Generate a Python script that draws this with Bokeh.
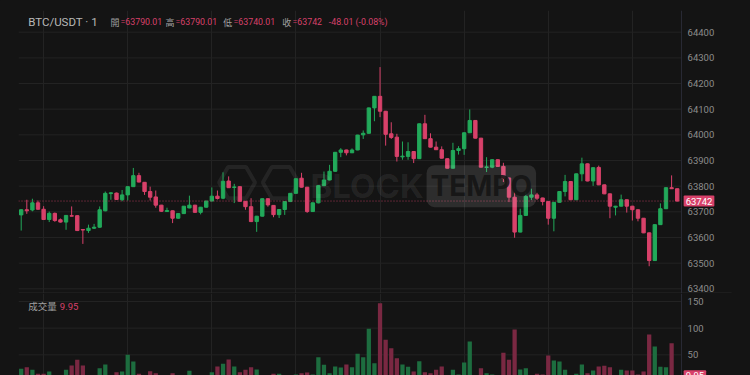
from bokeh.plotting import figure
from bokeh.layouts import column
from bokeh.models import Range1d, FixedTicker, Span, Label, ColumnDataSource
from bokeh.core.properties import value
from bokeh.embed import file_html
from bokeh.resources import INLINE

# ---------------- data ----------------
opens = [63688, 63708, 63707, 63735, 63710, 63670, 63694, 63669, 63660, 63685,
         63685, 63631, 63627, 63636, 63640, 63704, 63771, 63773, 63747, 63766,
         63798, 63841, 63815, 63779, 63758, 63726, 63701, 63704, 63675, 63693,
         63715, 63726, 63698, 63718, 63742, 63761, 63753, 63820, 63795, 63798,
         63741, 63720, 63662, 63683, 63751, 63725, 63689, 63709, 63740, 63772,
         63831, 63796, 63701, 63735, 63802, 63824, 63858, 63932, 63941, 63930,
         63941, 64000, 64006, 64105, 64150, 64092, 64004, 63991, 63914, 63916,
         63935, 63907, 64043, 63985, 63952, 63942, 63907, 63870, 63939, 63946,
         64008, 64056, 63987, 63873, 63874, 63903, 63877, 63832, 63757, 63621,
         63686, 63757, 63766, 63754, 63740, 63675, 63737, 63779, 63818, 63747,
         63848, 63887, 63820, 63873, 63805, 63770, 63718, 63722, 63747, 63722,
         63708, 63675, 63618, 63510, 63650, 63712, 63794, 63790.01]
highs = [63710, 63747, 63751, 63744, 63722, 63701, 63697, 63674, 63686, 63721,
         63686, 63631, 63650, 63653, 63721, 63779, 63776, 63775, 63785, 63799,
         63871, 63852, 63816, 63798, 63783, 63727, 63716, 63705, 63694, 63722,
         63763, 63727, 63719, 63743, 63795, 63783, 63854, 63838, 63809, 63799,
         63742, 63753, 63684, 63752, 63752, 63726, 63710, 63741, 63773, 63830,
         63852, 63797, 63736, 63803, 63857, 63883, 63933, 63948, 63942, 63947,
         64000, 64017, 64106, 64151, 64264, 64093, 64049, 64004, 63974, 63971,
         63936, 64044, 64078, 64006, 63974, 63955, 63908, 63969, 63956, 64009,
         64099, 64057, 63988, 63913, 63905, 63904, 63891, 63833, 63776, 63712,
         63776, 63790, 63774, 63755, 63741, 63738, 63780, 63844, 63819, 63849,
         63911, 63888, 63873, 63880, 63806, 63771, 63723, 63767, 63748, 63723,
         63709, 63676, 63619, 63651, 63733, 63795, 63842, 63790.01]
lows = [63627, 63692, 63702, 63708, 63669, 63660, 63661, 63658, 63630, 63682,
        63625, 63575, 63618, 63633, 63638, 63702, 63747, 63746, 63741, 63744,
        63797, 63815, 63766, 63744, 63716, 63700, 63700, 63656, 63673, 63692,
        63714, 63697, 63690, 63717, 63741, 63748, 63749, 63793, 63734, 63740,
        63708, 63660, 63622, 63682, 63720, 63679, 63676, 63688, 63738, 63770,
        63795, 63696, 63700, 63733, 63800, 63823, 63856, 63913, 63920, 63929,
        63940, 63984, 64005, 64053, 64069, 63958, 63984, 63896, 63903, 63903,
        63890, 63906, 63984, 63951, 63941, 63908, 63869, 63869, 63923, 63922,
        64007, 63986, 63873, 63855, 63870, 63876, 63816, 63738, 63599, 63620,
        63685, 63746, 63746, 63725, 63650, 63624, 63736, 63760, 63746, 63746,
        63819, 63819, 63801, 63804, 63769, 63675, 63686, 63721, 63697, 63666,
        63663, 63617, 63488, 63509, 63649, 63711, 63789, 63740.01]
closes = [63708, 63704, 63735, 63710, 63670, 63694, 63666, 63660, 63686, 63683,
          63627, 63629, 63636, 63640, 63708, 63772, 63774, 63748, 63766, 63798,
          63841, 63816, 63779, 63757, 63726, 63702, 63705, 63675, 63693, 63722,
          63726, 63698, 63718, 63742, 63761, 63752, 63819, 63794, 63797, 63741,
          63720, 63662, 63683, 63751, 63727, 63689, 63709, 63740, 63772, 63829,
          63796, 63701, 63735, 63802, 63824, 63858, 63932, 63941, 63930, 63941,
          63999, 64006, 64105, 64150, 64092, 64002, 63990, 63916, 63917, 63935,
          63907, 64043, 63985, 63952, 63942, 63909, 63870, 63939, 63946, 64008,
          64056, 63987, 63874, 63875, 63903, 63877, 63831, 63757, 63621, 63686,
          63760, 63766, 63753, 63740, 63675, 63737, 63779, 63818, 63747, 63848,
          63887, 63820, 63872, 63805, 63770, 63722, 63722, 63747, 63722, 63708,
          63675, 63618, 63510, 63650, 63712, 63794, 63790, 63742]
volumes = [23.8, 26.9, 21.9, 14.4, 14.4, 18.8, 8, 6, 21.9, 30,
           40.6, 30, 7, 5, 25, 31.9, 8, 17.5, 18.8, 50,
           37.5, 14.4, 9, 19.4, 15.6, 8, 6, 15.6, 7, 9,
           20, 8, 7, 9, 17.5, 28.1, 33.1, 41.2, 28.1, 17.5,
           21.9, 26.9, 22.5, 8, 6, 14.4, 14.4, 9, 7, 13.1,
           15.6, 16.9, 13.1, 45.6, 31.2, 15.6, 28.1, 26.2, 31.9, 26.9,
           51.9, 45.6, 98.8, 34.4, 146.8, 78.1, 62.5, 43.8, 31.9, 27.5,
           18.8, 38.1, 17.5, 15.6, 21.9, 28.1, 8, 21.9, 13.1, 35.6,
           75, 9, 25, 15.6, 13.1, 8, 53.8, 40.6, 97.5, 22.5,
           25, 6, 14.4, 13, 48.8, 39.4, 37.5, 21.9, 9, 14.4,
           31.9, 15.6, 20.6, 28.1, 29.4, 26.9, 7, 21.9, 20.6, 20.6,
           13.1, 18.8, 88.1, 65.6, 27.5, 26.9, 71.9, 9.95]
price_ticks = [63400, 63500, 63600, 63700, 63800, 63900, 64000, 64100, 64200, 64300, 64400]
volume_ticks = [50, 100, 150]
grid_candles = [4, 19, 34, 49, 64, 79, 94, 109]
symbol = "BTC/USDT · 1"
ohlc_names = ["開", "高", "低", "收"]
last_o, last_h, last_l, last_c = 63790.01, 63790.01, 63740.01, 63742
change, change_pct = -48.01, -0.08
vol_title = "成交量"

# ---------------- styles ----------------
BG = "#141414"
GRID = "#232323"
UP = "#22a95a"
DOWN = "#d8416a"
VUP = "#1d6d3f"
VDOWN = "#7a2842"
AX = "#8c8c8c"
AXLINE = "#2a2b36"
FONT = "Roboto"
CJK = "Noto Sans CJK TC"

X0 = -0.48        # left edge of plotting area (candle index units)
XAX = 117.77      # price-scale line position
XLAB = 118.85     # price-scale label position
XSEP = 126.7      # right end of the pane separator
XEND = 130.07     # right edge of the window

n = len(closes)
idx = list(range(n))
is_up = [c >= o for o, c in zip(opens, closes)]
src = ColumnDataSource(dict(
    x=idx, o=opens, h=highs, l=lows, c=closes, v=volumes,
    top=[max(o, c) for o, c in zip(opens, closes)],
    bot=[min(o, c) for o, c in zip(opens, closes)],
    col=[UP if u else DOWN for u in is_up],
    vcol=[VUP if u else VDOWN for u in is_up],
))

xr = Range1d(X0, XEND)


def style_pane(fig, yticks):
    fig.ygrid.visible = False
    fig.xgrid.ticker = FixedTicker(ticks=grid_candles)
    fig.xgrid.grid_line_color = GRID
    # horizontal grid limited to the plotting area, price scale on the right
    fig.segment(x0=X0, x1=XAX, y0=yticks, y1=yticks, line_color=GRID, line_width=1)
    fig.add_layout(Span(location=XAX, dimension="height", line_color=AXLINE, line_width=1))
    fig.text(x=XLAB, y=yticks, text=[str(t) for t in yticks], text_color=AX,
             text_font=value(FONT), text_font_size="9.5px", text_baseline="middle",
             text_align="left")


def lab(fig, x, y, text, color, font=FONT, size="10px"):
    fig.add_layout(Label(x=x, y=y, x_units="screen", y_units="screen", text=text,
                         text_color=color, text_font=font, text_font_size=size,
                         text_baseline="middle"))


# ---------------- price pane ----------------
p = figure(frame_width=732, frame_height=283, x_range=xr,
           y_range=Range1d(63381.7, 64484.5),
           output_backend="svg", toolbar_location=None,
           x_axis_location=None, y_axis_location=None,
           min_border_left=18, min_border_right=0, min_border_top=10, min_border_bottom=0,
           background_fill_color=BG, border_fill_color=BG, outline_line_color=None)
style_pane(p, price_ticks)

# watermark
p.scatter([38.5, 46.3], [63814, 63814], marker="hex", size=36, fill_color=None,
          line_color="#ffffff", line_alpha=0.07, line_width=4)
p.add_layout(Label(x=51.6, y=63800, text="BLOCK", text_font="Inter", text_font_style="bold",
                   text_font_size="33px", text_color="#ffffff", text_alpha=0.08,
                   text_baseline="middle"))
p.add_layout(Label(x=72.3, y=63800, text="TEMPO", text_font="Inter", text_font_style="bold",
                   text_font_size="28px", text_color="#141414", text_alpha=0.9,
                   text_baseline="middle", background_fill_color="#ffffff",
                   background_fill_alpha=0.11, padding=4, border_radius=8))

# pane separator
sep_y = p.y_range.start + 1.5
p.segment(x0=X0, x1=XSEP, y0=sep_y, y1=sep_y, line_color="#2e2e2e", line_width=1)

p.segment(x0="x", y0="l", x1="x", y1="h", source=src, line_color="col", line_width=1)
p.vbar(x="x", top="top", bottom="bot", width=0.6, source=src,
       fill_color="col", line_color="col", line_width=1)

p.segment(x0=X0, x1=XAX, y0=closes[-1], y1=closes[-1], line_color=DOWN,
          line_dash="1 2", line_alpha=0.75, line_width=1)

# header
hy = 293 - 21.5
lab(p, 27.7 - 18, hy, symbol, "#b8b8b8", size="11.5px")
vals = [last_o, last_h, last_l, last_c]
name_x = [110, 165, 222.7, 281.7]
val_x = [120, 175, 233, 292]
for nm, nx, vx, vv in zip(ohlc_names, name_x, val_x, vals):
    lab(p, nx - 18, hy, nm, "#a0a0a0", font=CJK, size="9px")
    txt = f"={vv:.2f}" if vv != int(vv) else f"={int(vv)}"
    lab(p, vx - 18, hy, txt, DOWN, size="8.8px")
lab(p, 328.3 - 18, hy, f"{change:.2f} ({change_pct:.2f}%)", DOWN, size="8.8px")

p.add_layout(Label(x=118.15, y=closes[-1], text=f"{closes[-1]}",
                   text_color="#ffffff", text_font=FONT, text_font_size="9.5px",
                   text_baseline="middle", background_fill_color=DOWN,
                   padding=2, border_radius=1))

# ---------------- volume pane ----------------
pv = figure(frame_width=732, frame_height=82, x_range=xr, y_range=Range1d(11.25, 165.0),
            output_backend="svg", toolbar_location=None,
            x_axis_location=None, y_axis_location=None,
            min_border_left=18, min_border_right=0, min_border_top=0, min_border_bottom=0,
            background_fill_color=BG, border_fill_color=BG, outline_line_color=None)
style_pane(pv, volume_ticks)

pv.vbar(x="x", top="v", bottom=0, width=0.76, source=src,
        fill_color="vcol", line_color=None)

vy = 82 - (305.7 - 293)
lab(pv, 27.7 - 18, vy, vol_title, "#a0a0a0", font=CJK, size="9.5px")
lab(pv, 59.3 - 18, vy, f"{volumes[-1]}", DOWN, size="9.5px")
pv.add_layout(Label(x=118.15, y=volumes[-1] + 1, text=f"{volumes[-1]}",
                    text_color="#ffffff", text_font=FONT, text_font_size="9.5px",
                    text_baseline="middle", background_fill_color=DOWN,
                    padding=2, border_radius=1))

layout = column(p, pv, spacing=0, styles={"background-color": BG})
open("out.html", "w").write(file_html(layout, INLINE))
